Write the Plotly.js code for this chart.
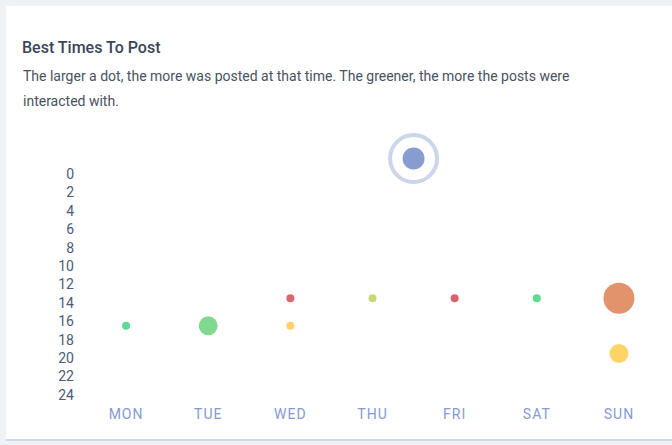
<!DOCTYPE html>
<html>
<head>
<meta charset="utf-8">
<script src="https://cdn.plot.ly/plotly-3.0.1.min.js"></script>
<style>
  html, body { margin: 0; padding: 0; background: #eef2f5; width: 672px; height: 445px; overflow: hidden; }
  #card { position: absolute; left: 6px; top: 6px; width: 666px; height: 433px; background: #ffffff; border-bottom: 2px solid #c9dde9; }
  #chart { position: absolute; left: 0; top: 0; width: 672px; height: 445px; }
  #chart .xtick text { letter-spacing: 1px; }
</style>
</head>
<body>
<div id="card"></div>
<div id="chart"></div>
<script>
// ---- data ----
const dayLabels = ["MON", "TUE", "WED", "THU", "FRI", "SAT", "SUN"];
const pointDay  = [0, 1, 2, 2, 3, 4, 5, 6, 6];
const pointHour = [16.5, 16.5, 13.5, 16.5, 13.5, 13.5, 13.5, 13.5, 19.5];
const dotSize   = [8, 19, 8, 8, 8, 8, 8, 31, 19];
const dotColor  = ["#5edb90", "#80d98f", "#d9686c", "#ffd166", "#c5d97b", "#d9626c", "#5fda8f", "#e3936b", "#ffd466"];
const hourTicks = [0, 2, 4, 6, 8, 10, 12, 14, 16, 18, 20, 22, 24];
// highlighted (hovered) point
const hiDay  = [3.5];
const hiHour = [-1.7];

const W = 672, H = 445;
const m = {l: 85, r: 12, t: 142, b: 41};
const plotH = H - m.t - m.b;
const px2x = px => (px - m.l) / (W - m.l - m.r);
const py2y = py => (H - m.b - py) / plotH;

const traces = [
  {
    x: pointDay, y: pointHour, type: "scatter", mode: "markers", cliponaxis: false,
    marker: {size: dotSize, color: dotColor, opacity: 1, line: {width: 0}},
    hoverinfo: "none"
  },
  {
    x: hiDay, y: hiHour, type: "scatter", mode: "markers", cliponaxis: false,
    marker: {size: 47, symbol: "circle-open", color: "#ccd6eb", opacity: 1, line: {width: 4, color: "#ccd6eb"}},
    hoverinfo: "none"
  },
  {
    x: hiDay, y: hiHour, type: "scatter", mode: "markers", cliponaxis: false,
    marker: {size: 22, color: "#889dcf", opacity: 1, line: {width: 0}},
    hoverinfo: "none"
  }
];

const layout = {
  width: W, height: H,
  margin: m,
  paper_bgcolor: "rgba(0,0,0,0)",
  plot_bgcolor: "rgba(0,0,0,0)",
  showlegend: false,
  font: {family: "Roboto, sans-serif"},
  title: {
    text: "Best Times To Post",
    xref: "container", x: 22 / W, xanchor: "left",
    yref: "container", y: 1 - 47 / H, yanchor: "middle",
    font: {family: "Roboto, sans-serif", size: 16, color: "#3a4558", weight: 500}
  },
  annotations: [
    {text: "The larger a dot, the more was posted at that time. The greener, the more the posts were",
     xref: "paper", yref: "paper", x: px2x(21), y: py2y(76), xanchor: "left", yanchor: "middle",
     showarrow: false, font: {family: "Roboto, sans-serif", size: 14, color: "#48525f"}},
    {text: "interacted with.",
     xref: "paper", yref: "paper", x: px2x(21), y: py2y(101), xanchor: "left", yanchor: "middle",
     showarrow: false, font: {family: "Roboto, sans-serif", size: 14, color: "#48525f"}}
  ],
  xaxis: {
    range: [-0.5, 6.5],
    tickvals: dayLabels.map((d, i) => i),
    ticktext: dayLabels,
    showgrid: false, zeroline: false, showline: false, ticks: "",
    tickfont: {family: "Roboto, sans-serif", size: 14, color: "#8699d3"},
    fixedrange: true
  },
  yaxis: {
    range: [25, -3.5],
    tickvals: hourTicks,
    ticktext: hourTicks.map(String),
    showgrid: false, zeroline: false, showline: false, ticks: "",
    ticklabelstandoff: 10,
    tickfont: {family: "Roboto, sans-serif", size: 14, color: "#4d5b78"},
    fixedrange: true
  }
};

Plotly.newPlot("chart", traces, layout, {displayModeBar: false, staticPlot: true});
</script>
</body>
</html>
